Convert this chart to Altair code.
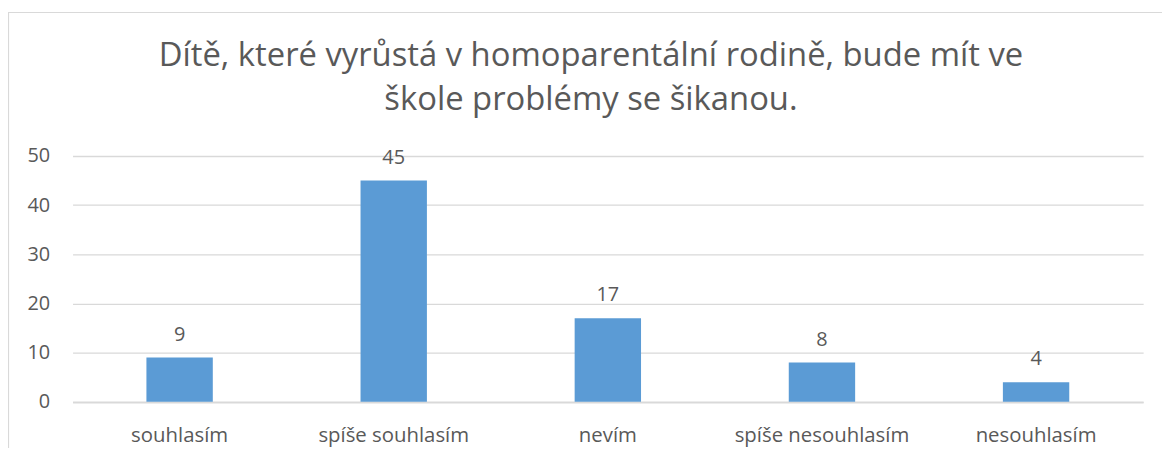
import altair as alt
import pandas as pd

categories = ["souhlasím", "spíše souhlasím", "nevím", "spíše nesouhlasím", "nesouhlasím"]
values = [9, 45, 17, 8, 4]
title_lines = ["Dítě, které vyrůstá v homoparentální rodině, bude mít ve", "škole problémy se šikanou."]

df = pd.DataFrame({"cat": categories, "val": values})

FONT = "Open Sans"
TXT = "#595959"

base = alt.Chart(df)

x = alt.X("cat:N", sort=categories, title=None,
          scale=alt.Scale(paddingInner=0.69, paddingOuter=0.345),
          axis=alt.Axis(labelAngle=0, labelFontSize=20.5, labelColor=TXT, labelFont=FONT,
                        labelPadding=24, ticks=False, domain=True, domainColor="#D9D9D9",
                        domainWidth=1.5, grid=False))
y = alt.Y("val:Q", title=None,
          scale=alt.Scale(domain=[0, 50], nice=False),
          axis=alt.Axis(values=[0, 10, 20, 30, 40, 50], labelFontSize=20, labelColor=TXT,
                        labelFont=FONT, labelPadding=23, ticks=False, domain=False,
                        gridColor="#D9D9D9", gridWidth=1.3))

bars = base.mark_bar(color="#5B9BD5").encode(x=x, y=y)
labels = base.mark_text(baseline="middle", dy=-23, fontSize=20, color=TXT, font=FONT).encode(
    x=alt.X("cat:N", sort=categories), y="val:Q", text="val:Q")

frame = alt.Chart(pd.DataFrame({"a": [0]})).mark_rect(
    fill="transparent", stroke="#D9D9D9", strokeWidth=1.2, clip=False).encode(
    x=alt.value(-64.5), x2=alt.value(1109), y=alt.value(-144.5), y2=alt.value(320))

title = alt.Chart(pd.DataFrame({"a": [0]})).mark_text(
    text=title_lines, fontSize=33, font=FONT, color=TXT, lineHeight=45,
    baseline="middle", align="center").encode(x=alt.value(522), y=alt.value(-101))

chart = alt.layer(frame, title, bars, labels).properties(
    width=1078, height=247.5,
    autosize=alt.AutoSizeParams(type="none"),
    padding={"left": 65, "top": 147.5, "right": 19, "bottom": 45},
).configure_view(stroke=None)

chart.save("out.html", embed_options={"renderer": "svg", "actions": False})
